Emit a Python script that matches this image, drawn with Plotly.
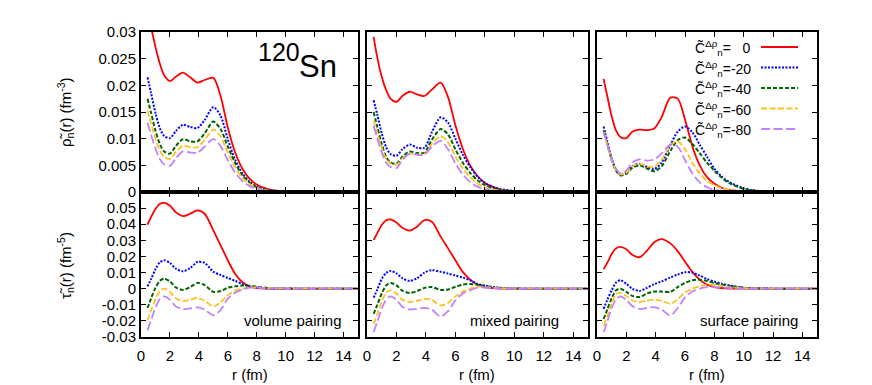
import plotly.graph_objects as go

W, H = 872, 385
PAGE_OFFSET = 8  # the page body margin shifts the figure by 8 px

# ---------------- data ----------------
r_fm = [0.45, 0.7, 1.0, 1.3, 1.6, 2.0, 2.4, 2.9, 3.4, 3.9, 4.4, 5.0, 5.5, 6.0, 6.5,
        7.0, 7.5, 8.0, 8.5, 9.0, 10, 11, 12, 13, 14, 15]

series_labels = ["0", "-20", "-40", "-60", "-80"]
x_ticks = [0, 2, 4, 6, 8, 10, 12, 14]
rho_ticks = [0, 0.005, 0.01, 0.015, 0.02, 0.025, 0.03]
rho_ticktext = ["0", "0.005", "0.01", "0.015", "0.02", "0.025", "0.03"]
tau_ticks = [-0.03, -0.02, -0.01, 0, 0.01, 0.02, 0.03, 0.04, 0.05]
tau_ticktext = ["-0.03", "-0.02", "-0.01", "0", "0.01", "0.02", "0.03", "0.04", "0.05"]
panel_labels = ["volume pairing", "mixed pairing", "surface pairing"]

# volume pairing, density
rho_vol_0 = [0.0335, 0.0308, 0.0272, 0.0241, 0.0219, 0.0208, 0.0216, 0.0224, 0.0215, 0.0205, 0.0210, 0.0214, 0.0180, 0.0121, 0.0075, 0.0044, 0.0025, 0.0014, 0.0008, 0.0004, 0.0001, 0, 0, 0, 0, 0]
rho_vol_20 = [0.0215, 0.0185, 0.0148, 0.0120, 0.0105, 0.0101, 0.0114, 0.0126, 0.0122, 0.0120, 0.0135, 0.0159, 0.0143, 0.0099, 0.0061, 0.0035, 0.0019, 0.0010, 0.0005, 0.0003, 0.0001, 0, 0, 0, 0, 0]
rho_vol_40 = [0.0175, 0.0148, 0.0115, 0.0090, 0.0076, 0.0072, 0.0086, 0.0099, 0.0095, 0.0095, 0.0110, 0.0132, 0.0118, 0.0085, 0.0055, 0.0032, 0.0018, 0.0009, 0.0005, 0.0002, 0.0001, 0, 0, 0, 0, 0]
rho_vol_60 = [0.0153, 0.0128, 0.0100, 0.0078, 0.0066, 0.0062, 0.0075, 0.0087, 0.0084, 0.0084, 0.0098, 0.0117, 0.0104, 0.0074, 0.0047, 0.0027, 0.0015, 0.0008, 0.0004, 0.0002, 0, 0, 0, 0, 0, 0]
rho_vol_80 = [0.0130, 0.0107, 0.0082, 0.0062, 0.0052, 0.0049, 0.0063, 0.0076, 0.0074, 0.0074, 0.0085, 0.0099, 0.0086, 0.0060, 0.0037, 0.0021, 0.0011, 0.0006, 0.0003, 0.0001, 0, 0, 0, 0, 0, 0]

# volume pairing, kinetic density
tau_vol_0 = [0.0397, 0.0445, 0.0495, 0.0525, 0.0532, 0.0515, 0.0475, 0.0450, 0.0465, 0.0486, 0.0465, 0.0362, 0.0269, 0.0176, 0.0093, 0.0041, 0.0014, 0.0004, 0.0001, 0, 0, 0, 0, 0, 0, 0]
tau_vol_20 = [0.0014, 0.0060, 0.0120, 0.0163, 0.0176, 0.0160, 0.0125, 0.0108, 0.0128, 0.0166, 0.0160, 0.0105, 0.0085, 0.0066, 0.0049, 0.0030, 0.0014, 0.0007, 0.0003, 0.0002, 0, 0, 0, 0, 0, 0]
tau_vol_40 = [-0.0120, -0.0060, 0.0005, 0.0048, 0.0062, 0.0045, 0.0008, -0.0008, 0.0010, 0.0036, 0.0022, -0.0020, -0.0015, 0.0006, 0.0015, 0.0019, 0.0018, 0.0012, 0.0007, 0.0003, 0.0001, 0, 0, 0, 0, 0]
tau_vol_60 = [-0.0197, -0.0135, -0.0065, -0.0015, 0.0000, -0.0020, -0.0060, -0.0077, -0.0068, -0.0058, -0.0075, -0.0110, -0.0085, -0.0040, -0.0012, 0.0000, 0.0008, 0.0008, 0.0005, 0.0003, 0.0001, 0, 0, 0, 0, 0]
tau_vol_80 = [-0.0259, -0.0195, -0.0118, -0.0065, -0.0048, -0.0068, -0.0110, -0.0128, -0.0122, -0.0116, -0.0130, -0.0166, -0.0133, -0.0062, -0.0025, -0.0006, 0.0006, 0.0006, 0.0004, 0.0002, 0.0001, 0, 0, 0, 0, 0]

# mixed pairing, density
rho_mix_0 = [0.0291, 0.0252, 0.0216, 0.0191, 0.0175, 0.0169, 0.0180, 0.0188, 0.0183, 0.0180, 0.0192, 0.0205, 0.0178, 0.0125, 0.0081, 0.0050, 0.0030, 0.0017, 0.0010, 0.0005, 0.0001, 0, 0, 0, 0, 0]
rho_mix_20 = [0.0172, 0.0145, 0.0110, 0.0084, 0.0071, 0.0068, 0.0080, 0.0089, 0.0083, 0.0083, 0.0112, 0.0140, 0.0130, 0.0100, 0.0070, 0.0047, 0.0029, 0.0017, 0.0010, 0.0006, 0.0002, 0.0001, 0, 0, 0, 0]
rho_mix_40 = [0.0150, 0.0122, 0.0090, 0.0066, 0.0055, 0.0053, 0.0066, 0.0076, 0.0073, 0.0074, 0.0098, 0.0118, 0.0108, 0.0080, 0.0055, 0.0036, 0.0022, 0.0013, 0.0007, 0.0004, 0.0001, 0, 0, 0, 0, 0]
rho_mix_60 = [0.0134, 0.0110, 0.0083, 0.0062, 0.0053, 0.0051, 0.0063, 0.0072, 0.0070, 0.0071, 0.0090, 0.0105, 0.0093, 0.0067, 0.0044, 0.0028, 0.0016, 0.0009, 0.0005, 0.0003, 0.0001, 0, 0, 0, 0, 0]
rho_mix_80 = [0.0124, 0.0100, 0.0074, 0.0055, 0.0047, 0.0045, 0.0060, 0.0072, 0.0070, 0.0070, 0.0085, 0.0096, 0.0080, 0.0054, 0.0033, 0.0019, 0.0010, 0.0005, 0.0003, 0.0001, 0, 0, 0, 0, 0, 0]

# mixed pairing, kinetic density
tau_mix_0 = [0.0302, 0.0345, 0.0395, 0.0425, 0.0430, 0.0410, 0.0378, 0.0360, 0.0385, 0.0425, 0.0415, 0.0323, 0.0250, 0.0177, 0.0104, 0.0056, 0.0025, 0.0010, 0.0004, 0.0001, 0, 0, 0, 0, 0, 0]
tau_mix_20 = [-0.0056, -0.0005, 0.0060, 0.0098, 0.0110, 0.0095, 0.0065, 0.0048, 0.0065, 0.0100, 0.0115, 0.0105, 0.0094, 0.0082, 0.0069, 0.0052, 0.0030, 0.0019, 0.0011, 0.0006, 0.0001, 0, 0, 0, 0, 0]
tau_mix_40 = [-0.0156, -0.0100, -0.0030, 0.0020, 0.0035, 0.0020, -0.0012, -0.0027, -0.0015, 0.0005, 0.0010, -0.0008, -0.0005, 0.0012, 0.0025, 0.0029, 0.0025, 0.0015, 0.0008, 0.0004, 0.0001, 0, 0, 0, 0, 0]
tau_mix_60 = [-0.0219, -0.0160, -0.0080, -0.0025, -0.0010, -0.0030, -0.0068, -0.0083, -0.0075, -0.0063, -0.0070, -0.0104, -0.0088, -0.0048, -0.0018, 0.0000, 0.0012, 0.0010, 0.0006, 0.0003, 0.0001, 0, 0, 0, 0, 0]
tau_mix_80 = [-0.0271, -0.0205, -0.0125, -0.0068, -0.0048, -0.0070, -0.0112, -0.0129, -0.0125, -0.0119, -0.0130, -0.0173, -0.0140, -0.0073, -0.0030, -0.0010, 0.0006, 0.0007, 0.0004, 0.0002, 0.0001, 0, 0, 0, 0, 0]

# surface pairing, density
rho_sur_0 = [0.0212, 0.0180, 0.0142, 0.0115, 0.0103, 0.0101, 0.0113, 0.0117, 0.0116, 0.0119, 0.0140, 0.0177, 0.0175, 0.0136, 0.0086, 0.0050, 0.0028, 0.0016, 0.0008, 0.0004, 0.0001, 0, 0, 0, 0, 0]
rho_sur_20 = [0.0123, 0.0095, 0.0063, 0.0042, 0.0033, 0.0036, 0.0048, 0.0053, 0.0047, 0.0043, 0.0055, 0.0088, 0.0113, 0.0123, 0.0112, 0.0089, 0.0066, 0.0044, 0.0029, 0.0019, 0.0007, 0.0002, 0.0001, 0, 0, 0]
rho_sur_40 = [0.0116, 0.0090, 0.0060, 0.0040, 0.0031, 0.0034, 0.0045, 0.0050, 0.0044, 0.0039, 0.0048, 0.0077, 0.0097, 0.0102, 0.0090, 0.0073, 0.0055, 0.0040, 0.0027, 0.0017, 0.0006, 0.0002, 0.0001, 0, 0, 0]
rho_sur_60 = [0.0111, 0.0088, 0.0060, 0.0041, 0.0033, 0.0036, 0.0048, 0.0053, 0.0048, 0.0047, 0.0060, 0.0087, 0.0095, 0.0080, 0.0055, 0.0035, 0.0021, 0.0013, 0.0007, 0.0004, 0.0001, 0, 0, 0, 0, 0]
rho_sur_80 = [0.0113, 0.0090, 0.0062, 0.0043, 0.0035, 0.0040, 0.0055, 0.0061, 0.0059, 0.0061, 0.0072, 0.0089, 0.0085, 0.0060, 0.0035, 0.0018, 0.0009, 0.0004, 0.0002, 0.0001, 0, 0, 0, 0, 0, 0]

# surface pairing, kinetic density
tau_sur_0 = [0.0121, 0.0160, 0.0215, 0.0250, 0.0260, 0.0245, 0.0210, 0.0195, 0.0235, 0.0288, 0.0308, 0.0281, 0.0233, 0.0167, 0.0104, 0.0056, 0.0025, 0.0010, 0.0004, 0.0001, 0, 0, 0, 0, 0, 0]
tau_sur_20 = [-0.0125, -0.0070, -0.0010, 0.0038, 0.0052, 0.0030, 0.0000, -0.0014, 0.0005, 0.0028, 0.0045, 0.0069, 0.0088, 0.0102, 0.0100, 0.0081, 0.0060, 0.0044, 0.0031, 0.0021, 0.0006, 0.0002, 0, 0, 0, 0]
tau_sur_40 = [-0.0188, -0.0130, -0.0060, -0.0010, 0.0000, -0.0020, -0.0045, -0.0052, -0.0030, -0.0018, -0.0018, -0.0020, 0.0010, 0.0036, 0.0052, 0.0056, 0.0048, 0.0035, 0.0025, 0.0017, 0.0005, 0.0001, 0, 0, 0, 0]
tau_sur_60 = [-0.0229, -0.0170, -0.0090, -0.0035, -0.0025, -0.0045, -0.0072, -0.0083, -0.0075, -0.0068, -0.0075, -0.0094, -0.0065, -0.0025, 0.0000, 0.0015, 0.0025, 0.0023, 0.0016, 0.0010, 0.0003, 0.0001, 0, 0, 0, 0]
tau_sur_80 = [-0.0271, -0.0205, -0.0120, -0.0065, -0.0048, -0.0070, -0.0108, -0.0125, -0.0120, -0.0115, -0.0130, -0.0167, -0.0120, -0.0054, -0.0018, 0.0000, 0.0010, 0.0010, 0.0007, 0.0004, 0.0001, 0, 0, 0, 0, 0]

panels = [
    [rho_vol_0, rho_vol_20, rho_vol_40, rho_vol_60, rho_vol_80],
    [rho_mix_0, rho_mix_20, rho_mix_40, rho_mix_60, rho_mix_80],
    [rho_sur_0, rho_sur_20, rho_sur_40, rho_sur_60, rho_sur_80],
    [tau_vol_0, tau_vol_20, tau_vol_40, tau_vol_60, tau_vol_80],
    [tau_mix_0, tau_mix_20, tau_mix_40, tau_mix_60, tau_mix_80],
    [tau_sur_0, tau_sur_20, tau_sur_40, tau_sur_60, tau_sur_80],
]

# ---------------- styles ----------------
FONT = "Liberation Sans, Arial, Helvetica, sans-serif"
colors = ["#ff0000", "#0000ff", "#006400", "#ffc020", "#c080ff"]
dashes = ["solid", "2px,1.5px", "4px,2px", "6px,2.5px", "9px,3.5px"]
widths = [1.8, 2.0, 2.0, 1.8, 1.8]

def fx(px):
    return (px - PAGE_OFFSET) / W

def fy(py):
    return 1 - (py - PAGE_OFFSET) / H

col_px = [(141, 358), (367, 588), (597, 817)]
row_px = [(32, 192), (192, 337)]

fig = go.Figure()
layout = dict(
    template="none",
    width=W, height=H, autosize=False,
    margin=dict(l=0, r=0, t=0, b=0, pad=0, autoexpand=False),
    paper_bgcolor="white", plot_bgcolor="white",
    showlegend=False,
    font=dict(family=FONT, size=15, color="black"),
)

for k in range(6):
    row, col = divmod(k, 3)
    idx = "" if k == 0 else str(k + 1)
    xa, ya = "x" + idx, "y" + idx
    for s, ys in enumerate(panels[k]):
        fig.add_trace(go.Scatter(
            x=r_fm, y=ys, mode="lines", xaxis=xa, yaxis=ya,
            line=dict(color=colors[s], width=widths[s], dash=dashes[s],
                      shape="spline", smoothing=0.8),
            name=series_labels[s], hoverinfo="skip"))
    x0, x1 = col_px[col]
    y0, y1 = row_px[row]
    common = dict(showline=True, linewidth=2, linecolor="black", mirror="ticks",
                  ticks="inside", ticklen=5, tickwidth=1, tickcolor="black",
                  showgrid=False, zeroline=False, fixedrange=True, automargin=False,
                  tickfont=dict(family=FONT, size=15, color="black"))
    layout["xaxis" + idx] = dict(
        domain=[fx(x0), fx(x1)], range=[0, 15], anchor=ya,
        tickvals=x_ticks, ticktext=[str(t) for t in x_ticks],
        showticklabels=(row == 1), ticklabelstandoff=4, **common)
    if row == 0:
        ytv, ytt, yr = rho_ticks, rho_ticktext, [0, 0.03]
    else:
        ytv, ytt, yr = tau_ticks, tau_ticktext, [-0.03, 0.06]
    layout["yaxis" + idx] = dict(
        domain=[fy(y1), fy(y0)], range=yr, anchor=xa,
        tickvals=ytv, ticktext=ytt,
        showticklabels=(col == 0), **common)

annotations = []
def ann(text, x, y, size=15, xanchor="center", yanchor="middle", angle=0):
    annotations.append(dict(text=text, x=fx(x), y=fy(y), xref="paper", yref="paper",
                            showarrow=False, xanchor=xanchor, yanchor=yanchor,
                            textangle=angle, borderpad=0,
                            font=dict(family=FONT, size=size, color="black")))

# axis titles
ann("ρ̃<sub>n</sub>(r) (fm<sup>-3</sup>)", 66, 112, angle=-90)
ann("τ̃<sub>n</sub>(r) (fm<sup>-5</sup>)", 65, 266, angle=-90)
for (x0, x1) in col_px:
    ann("r (fm)", (x0 + x1) / 2, 374)
# pairing labels
for (x0, x1), lab in zip(col_px, panel_labels):
    ann(lab, x0 + 102, 320, xanchor="left")
# nucleus label
ann("120", 257, 52, size=25, xanchor="left")
ann("Sn", 298, 66, size=31, xanchor="left")

# legend (text on the left, sample on the right)
leg_rows = [47, 67.5, 88, 108.5, 129]
shapes = []
for s, yr_ in enumerate(leg_rows):
    val = series_labels[s] if series_labels[s] != "0" else "\u00a0\u00a0\u00a00"
    ann("C̃<sup>Δρ</sup><sub>n</sub>=" + val, 752, yr_ + 1, size=14, xanchor="right")
    shapes.append(dict(type="line", xref="paper", yref="paper",
                       x0=fx(761), x1=fx(798), y0=fy(yr_), y1=fy(yr_),
                       line=dict(color=colors[s], width=widths[s], dash=dashes[s])))

layout["annotations"] = annotations
layout["shapes"] = shapes
fig.update_layout(**layout)
fig.write_html("out.html")
